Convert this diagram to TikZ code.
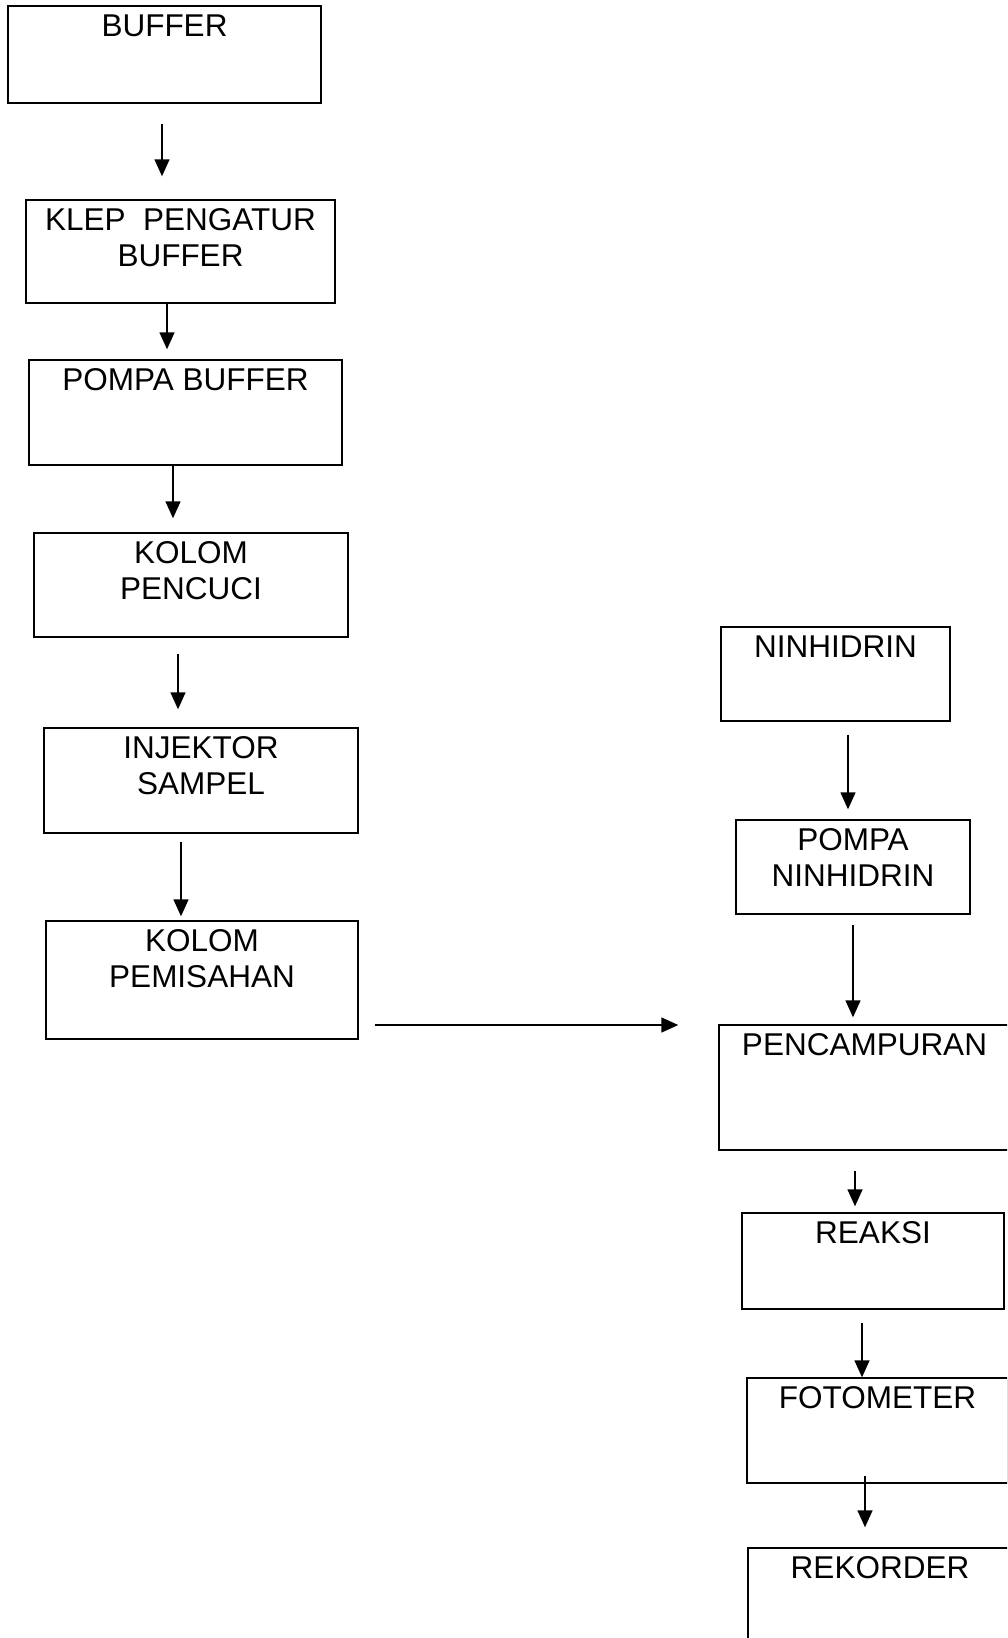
\documentclass[tikz,border=0pt]{standalone}
\usepackage{fontspec}
\setmainfont{Liberation Sans}
\usetikzlibrary{arrows.meta}

\begin{document}
\begin{tikzpicture}[x=1pt,y=-1pt,>={Triangle[width=15pt,length=17pt]},
    stage/.style={draw,line width=1.4pt,inner sep=0pt},
    txt/.style={anchor=north,yshift=-9pt,inner sep=0pt,align=center,font=\fontsize{31.5}{36}\selectfont},
    flow/.style={->,line width=1.4pt}]
        \useasboundingbox (0,0) rectangle (1007,1638);
        \clip (0,0) rectangle (1007,1638);
        \node[stage,minimum width=313,minimum height=97,label={[txt]north:BUFFER}] (buffer) at (164.5,54.5) {};
        \node[stage,minimum width=309,minimum height=103,label={[txt]north:KLEP~ PENGATUR\\BUFFER}] (klep) at (180.5,251.5) {};
        \node[stage,minimum width=313,minimum height=105,label={[txt]north:POMPA BUFFER}] (pompa) at (185.5,412.5) {};
        \node[stage,minimum width=314,minimum height=104,label={[txt]north:KOLOM\\PENCUCI}] (pencuci) at (191,585) {};
        \node[stage,minimum width=314,minimum height=105,label={[txt]north:INJEKTOR\\SAMPEL}] (injektor) at (201,780.5) {};
        \node[stage,minimum width=312,minimum height=118,label={[txt]north:KOLOM\\PEMISAHAN}] (pemisahan) at (202,980) {};
        \node[stage,minimum width=229,minimum height=94,label={[txt]north:NINHIDRIN}] (ninhidrin) at (835.5,674) {};
        \node[stage,minimum width=234,minimum height=94,label={[txt]north:POMPA\\NINHIDRIN}] (pomnin) at (853,867) {};
        \node[stage,minimum width=291,minimum height=125,label={[txt]north:PENCAMPURAN}] (pencampuran) at (864.5,1087.5) {};
        \node[stage,minimum width=262,minimum height=96,label={[txt]north:REAKSI}] (reaksi) at (873,1261) {};
        \node[stage,minimum width=261,minimum height=105,label={[txt]north:FOTOMETER}] (fotometer) at (877.5,1430.5) {};
        \node[stage,minimum width=264,minimum height=132,label={[txt]north:REKORDER}] (rekorder) at (880,1614) {};
        \draw[flow,shorten <=20pt,shorten >=23pt] (buffer.south -| 162,0) -- (klep.north -| 162,0);
        \draw[flow,shorten >=10pt] (klep.south -| 167,0) -- (pompa.north -| 167,0);
        \draw[flow,shorten >=14pt] (pompa.south -| 173,0) -- (pencuci.north -| 173,0);
        \draw[flow,shorten <=16pt,shorten >=18pt] (pencuci.south -| 178,0) -- (injektor.north -| 178,0);
        \draw[flow,shorten <=8pt,shorten >=4pt] (injektor.south -| 181,0) -- (pemisahan.north -| 181,0);
        \draw[flow,shorten <=16pt,shorten >=40pt] (pemisahan.east |- 0,1025) -- (pencampuran.west |- 0,1025);
        \draw[flow,shorten <=13pt,shorten >=10pt] (ninhidrin.south -| 848,0) -- (pomnin.north -| 848,0);
        \draw[flow,shorten <=10pt,shorten >=7pt] (pomnin.south -| 853,0) -- (pencampuran.north -| 853,0);
        \draw[flow,shorten <=20pt,shorten >=6pt] (pencampuran.south -| 855,0) -- (reaksi.north -| 855,0);
        \draw[flow,shorten <=13pt] (reaksi.south -| 862,0) -- (fotometer.north -| 862,0);
        \draw[flow,shorten <=-8pt,shorten >=20pt] (fotometer.south -| 865,0) -- (rekorder.north -| 865,0);
\end{tikzpicture}
\end{document}
